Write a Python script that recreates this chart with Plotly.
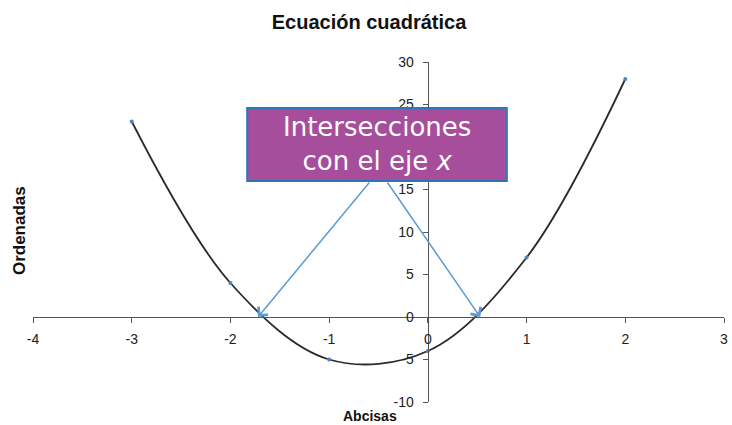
import plotly.graph_objects as go

# Points of the quadratic sampled at integer abscissas
abscisas = [-3, -2, -1, 0, 1, 2]
ordenadas = [23, 4, -5, -4, 7, 28]

# Roots marked by the callout arrows
raices = [-1.72, 0.53]

x_ticks = [-4, -3, -2, -1, 0, 1, 2, 3]
y_ticks = [-10, -5, 0, 5, 10, 15, 20, 25, 30]

x_range = [-4, 3]
y_range = [-10, 30]

fig = go.Figure()

fig.add_trace(go.Scatter(
    x=abscisas, y=ordenadas,
    mode="lines+markers",
    line=dict(color="#2b2b2b", width=1.8, shape="spline", smoothing=1.0),
    marker=dict(color="#4f81bd", size=4),
    showlegend=False,
    hoverinfo="skip",
))

axis_font = dict(family="Liberation Sans, Arial, sans-serif", size=14, color="#222222")

# Axes crossing at the origin
fig.update_xaxes(
    range=x_range, tickvals=x_ticks, ticktext=[str(v) for v in x_ticks],
    anchor="free", position=(0 - y_range[0]) / (y_range[1] - y_range[0]),
    showline=True, linecolor="#555555", linewidth=1.4,
    ticks="outside", ticklen=5, tickcolor="#555555", tickwidth=1,
    showgrid=False, zeroline=False, tickfont=axis_font, ticklabelstandoff=4,
    ticklabeloverflow="allow",
)
fig.update_yaxes(
    range=y_range, tickvals=y_ticks, ticktext=[str(v) for v in y_ticks],
    anchor="free", position=(0 - x_range[0]) / (x_range[1] - x_range[0]),
    showline=True, linecolor="#555555", linewidth=1.4,
    ticks="outside", ticklen=5, tickcolor="#555555", tickwidth=1,
    showgrid=False, zeroline=False, tickfont=axis_font, ticklabelstandoff=6,
    ticklabeloverflow="allow",
)

# Callout box
box_x = [-1.83, 0.80]
box_y = [16.0, 24.6]
fig.add_shape(
    type="rect", xref="x", yref="y",
    x0=box_x[0], x1=box_x[1], y0=box_y[0], y1=box_y[1],
    fillcolor="#a64d9c", line=dict(color="#2e75b6", width=2),
    layer="above",
)
fig.add_annotation(
    x=(box_x[0] + box_x[1]) / 2, y=(box_y[0] + box_y[1]) / 2,
    xref="x", yref="y", showarrow=False,
    text="Intersecciones<br>con el eje <i>x</i>",
    font=dict(family="DejaVu Sans, sans-serif", size=26, color="white"),
    align="center",
)

# Arrows from the callout to the roots
arrow_tails = [-0.58, -0.42]
for tail, root in zip(arrow_tails, raices):
    fig.add_annotation(
        x=root, y=0, ax=tail, ay=box_y[0],
        xref="x", yref="y", axref="x", ayref="y",
        text="", showarrow=True,
        arrowhead=4, arrowsize=1.6, arrowwidth=1.5,
        arrowcolor="#5b9bd5", standoff=0, startstandoff=0,
    )

# Axis titles
fig.add_annotation(
    xref="paper", yref="paper", x=(372 - 33) / 695, y=0, yshift=-14,
    text="<b>Abcisas</b>", showarrow=False,
    font=dict(family="Liberation Sans, Arial, sans-serif", size=14, color="#111111"),
    xanchor="center", yanchor="middle",
)
fig.add_annotation(
    xref="paper", yref="paper", x=(19 - 33) / 695, y=(402 - 231) / 340,
    text="<b>Ordenadas</b>", showarrow=False, textangle=-90,
    font=dict(family="Liberation Sans, Arial, sans-serif", size=17, color="#111111"),
    xanchor="center", yanchor="middle",
)

fig.update_layout(
    width=732, height=425,
    margin=dict(l=33, r=4, t=62, b=23),
    paper_bgcolor="white", plot_bgcolor="white",
    title=dict(
        text="<b>Ecuación cuadrática</b>",
        x=369 / 732, xanchor="center", y=1 - 22 / 425, yanchor="middle",
        font=dict(family="Liberation Sans, Arial, sans-serif", size=20, color="#111111"),
    ),
)

fig.write_html("out.html")
